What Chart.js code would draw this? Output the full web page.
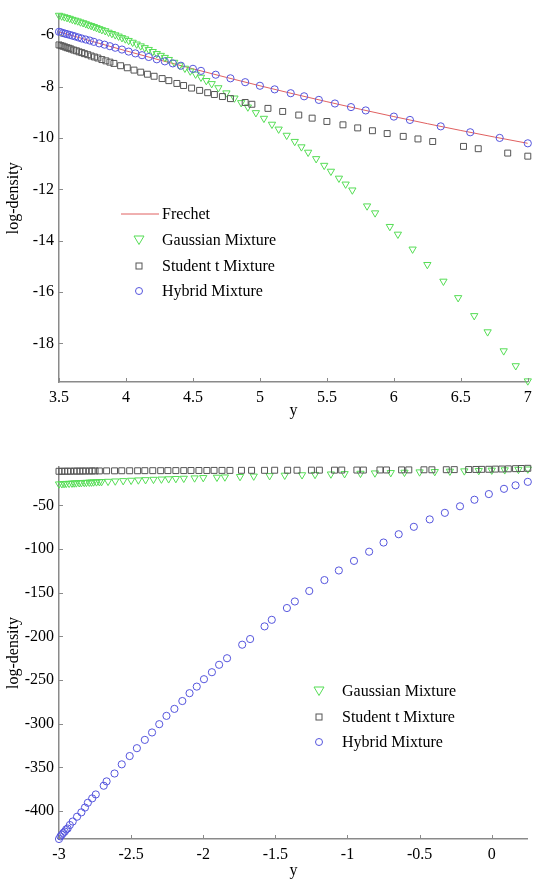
<!DOCTYPE html>
<html>
<head>
<meta charset="utf-8">
<script src="https://cdn.jsdelivr.net/npm/chart.js@4.4.0/dist/chart.umd.min.js"></script>
<style>
  body { margin: 0; background: #fff; width: 533px; height: 880px; overflow: hidden; position: relative; font-family: "Liberation Serif", "DejaVu Serif", serif; }
  .box { position: absolute; left: 0; }
  .legend { position: absolute; font-size: 16px; color: #000; line-height: 19px; }
  .legend .item { position: absolute; white-space: nowrap; }
  .legend svg { position: absolute; }
</style>
</head>
<body>
<div class="box" style="top:0px;"><canvas id="topChart" width="533" height="420"></canvas></div>
<div class="box" style="top:420px;"><canvas id="botChart" width="533" height="460"></canvas></div>

<div class="legend" id="topLegend" style="left:0; top:0;">
  <svg style="left:120px; top:207px;" width="40" height="14"><line x1="1" y1="7" x2="39" y2="7" stroke="#e06060" stroke-width="1"/></svg>
  <div class="item" style="left:162px; top:204px;">Frechet</div>
  <svg style="left:132px; top:233px;" width="14" height="14"><polygon points="2,3 12,3 7,11.5" fill="none" stroke="#55dd55" stroke-width="1"/></svg>
  <div class="item" style="left:162px; top:230px;">Gaussian Mixture</div>
  <svg style="left:132px; top:259px;" width="14" height="14"><rect x="4" y="4" width="6" height="6" fill="none" stroke="#555" stroke-width="1"/></svg>
  <div class="item" style="left:162px; top:256px;">Student t Mixture</div>
  <svg style="left:132px; top:284px;" width="14" height="14"><circle cx="7" cy="7" r="3.5" fill="none" stroke="#5555dd" stroke-width="1"/></svg>
  <div class="item" style="left:162px; top:281px;">Hybrid Mixture</div>
</div>

<div class="legend" id="botLegend" style="left:0; top:0;">
  <svg style="left:312px; top:684px;" width="14" height="14"><polygon points="2,3 12,3 7,11.5" fill="none" stroke="#55dd55" stroke-width="1"/></svg>
  <div class="item" style="left:342px; top:681px;">Gaussian Mixture</div>
  <svg style="left:312px; top:710px;" width="14" height="14"><rect x="4" y="4" width="6" height="6" fill="none" stroke="#555" stroke-width="1"/></svg>
  <div class="item" style="left:342px; top:707px;">Student t Mixture</div>
  <svg style="left:312px; top:735px;" width="14" height="14"><circle cx="7" cy="7" r="3.5" fill="none" stroke="#5555dd" stroke-width="1"/></svg>
  <div class="item" style="left:342px; top:732px;">Hybrid Mixture</div>
</div>

<script>
// ---- top panel (upper tail, y from 3.5 to 7) ----
var topFrechetX = [3.5, 3.75, 4, 4.25, 4.5, 4.75, 5, 5.25, 5.5, 5.75, 6, 6.25, 6.5, 6.75, 7];
var topFrechetY = [-5.87, -6.245, -6.61, -6.965, -7.31, -7.645, -7.97, -8.285, -8.59, -8.885, -9.17, -9.445, -9.71, -9.965, -10.21];

var topGaussX = [3.50,3.52,3.54,3.56,3.58,3.60,3.62,3.64,3.66,3.68,3.70,3.72,3.74,3.76,3.78,3.80,3.82,
  3.845,3.87,3.895,3.92,3.945,3.97,3.995,
  4.02,4.05,4.08,4.11,4.14,4.17,4.20,4.23,4.26,4.29,4.32,
  4.36,4.40,4.44,4.48,4.52,4.56,4.60,4.64,
  4.69,4.75,4.81,4.86,4.91,4.97,5.03,5.09,5.14,5.20,5.26,5.31,5.36,5.42,5.48,5.53,5.59,5.64,5.69,
  5.80,5.86,5.97,6.03,6.14,6.25,6.37,6.48,6.60,6.70,6.82,6.91,7.00];
var topGaussY = [-5.23,-5.26,-5.29,-5.32,-5.35,-5.39,-5.42,-5.45,-5.49,-5.52,-5.56,-5.60,-5.63,-5.67,-5.71,-5.75,-5.79,
  -5.83,-5.89,-5.94,-5.99,-6.04,-6.10,-6.15,
  -6.21,-6.28,-6.35,-6.42,-6.49,-6.56,-6.64,-6.72,-6.79,-6.87,-6.95,
  -7.06,-7.17,-7.29,-7.40,-7.52,-7.64,-7.77,-7.89,
  -8.05,-8.25,-8.45,-8.63,-8.80,-9.02,-9.24,-9.47,-9.66,-9.90,-10.14,-10.35,-10.56,-10.81,-11.07,-11.30,-11.57,-11.80,-12.03,
  -12.65,-12.92,-13.45,-13.75,-14.33,-14.93,-15.58,-16.22,-16.92,-17.55,-18.29,-18.87,-19.46];

var topStudentX = [3.50,3.515,3.53,3.545,3.56,3.575,3.59,3.61,3.63,3.65,3.67,3.69,3.715,3.74,3.765,3.79,
  3.82,3.85,3.88,3.91,3.96,4.01,4.06,4.11,4.16,4.21,4.27,4.32,4.38,4.43,4.49,4.55,4.61,4.66,4.72,4.78,
  4.89,4.94,5.06,5.17,5.29,5.39,5.50,5.62,5.73,5.84,5.95,6.07,6.18,6.29,6.52,6.63,6.85,7.00];
var topStudentY = [-6.38,-6.41,-6.43,-6.46,-6.49,-6.51,-6.54,-6.58,-6.61,-6.65,-6.68,-6.72,-6.76,-6.81,-6.85,-6.89,
  -6.95,-7.00,-7.05,-7.10,-7.19,-7.27,-7.36,-7.44,-7.52,-7.60,-7.69,-7.77,-7.88,-7.96,-8.06,-8.15,-8.24,-8.31,-8.39,-8.47,
  -8.62,-8.69,-8.85,-8.97,-9.11,-9.23,-9.36,-9.49,-9.61,-9.72,-9.83,-9.94,-10.04,-10.14,-10.33,-10.42,-10.59,-10.71];

var topHybridX = [3.50,3.515,3.53,3.545,3.56,3.58,3.60,3.62,3.645,3.67,3.70,3.73,3.76,3.80,3.84,3.88,3.92,3.97,4.02,4.07,
  4.12,4.17,4.23,4.29,4.35,4.41,4.50,4.56,4.67,4.78,4.89,5.00,5.11,5.23,5.33,5.44,5.56,5.68,5.79,6.00,6.12,6.35,6.57,6.79,7.00];
var topHybridY = [-5.87,-5.89,-5.92,-5.94,-5.96,-5.99,-6.02,-6.05,-6.09,-6.13,-6.17,-6.21,-6.26,-6.32,-6.37,-6.43,-6.49,-6.56,-6.64,-6.71,
  -6.78,-6.85,-6.94,-7.02,-7.10,-7.19,-7.31,-7.39,-7.54,-7.68,-7.83,-7.97,-8.11,-8.26,-8.38,-8.52,-8.66,-8.80,-8.93,-9.17,-9.30,-9.55,-9.78,-10.00,-10.21];

// ---- bottom panel (lower tail, y from -3 to 0.25) ----
var botGaussX = [-3.00,-2.98,-2.965,-2.95,-2.93,-2.91,-2.895,-2.88,-2.86,-2.845,-2.825,-2.81,-2.79,-2.775,-2.76,-2.74,-2.72,-2.705,
  -2.66,-2.61,-2.555,-2.50,-2.45,-2.40,-2.345,-2.29,-2.24,-2.19,-2.135,
  -2.06,-2.00,-1.905,-1.85,-1.745,-1.65,-1.54,-1.435,-1.315,-1.225,-1.115,-1.02,-0.91,-0.81,-0.70,-0.605,-0.50,-0.395,-0.29,-0.19,-0.09,0.00,0.09,0.185,0.25];
var botGaussY = [-25.5,-25.3,-25.1,-24.9,-24.8,-24.6,-24.4,-24.3,-24.1,-24.0,-23.8,-23.7,-23.5,-23.4,-23.2,-23.1,-22.9,-22.8,
  -22.5,-22.1,-21.7,-21.3,-20.9,-20.6,-20.2,-19.9,-19.6,-19.3,-19.0,
  -18.6,-18.2,-17.8,-17.5,-17.0,-16.5,-16.0,-15.5,-15.0,-14.6,-14.1,-13.7,-13.3,-12.9,-12.5,-12.1,-11.7,-11.3,-10.9,-10.5,-10.1,-9.7,-9.3,-8.8,-8.4];

var botStudentX = [-3.00,-2.98,-2.96,-2.94,-2.92,-2.895,-2.875,-2.855,-2.835,-2.815,-2.79,-2.77,-2.75,
  -2.72,-2.67,-2.615,-2.565,-2.51,-2.455,-2.405,-2.35,-2.295,-2.245,-2.19,-2.135,-2.085,-2.03,-1.975,-1.925,-1.87,-1.815,
  -1.735,-1.665,-1.575,-1.505,-1.415,-1.35,-1.25,-1.195,-1.09,-1.04,-0.935,-0.89,-0.775,-0.73,-0.625,-0.575,-0.47,-0.415,-0.315,-0.26,
  -0.16,-0.11,-0.07,-0.02,0.025,0.07,0.115,0.165,0.205,0.25];
var botStudentY = [-10.9,-10.9,-10.8,-10.8,-10.8,-10.7,-10.7,-10.7,-10.6,-10.6,-10.6,-10.5,-10.5,
  -10.5,-10.4,-10.4,-10.3,-10.3,-10.3,-10.2,-10.2,-10.2,-10.1,-10.1,-10.1,-10.0,-10.0,-10.0,-9.9,-9.9,-9.9,
  -9.8,-9.8,-9.8,-9.7,-9.7,-9.7,-9.6,-9.6,-9.6,-9.5,-9.5,-9.5,-9.4,-9.4,-9.3,-9.3,-9.2,-9.2,-9.1,-9.0,
  -8.9,-8.8,-8.7,-8.6,-8.4,-8.3,-8.1,-7.9,-7.7,-7.5];

var botHybridX = [-3.00,-2.99,-2.98,-2.97,-2.96,-2.95,-2.94,-2.925,-2.905,-2.875,-2.845,-2.82,-2.80,-2.77,-2.745,-2.69,-2.67,-2.615,
  -2.565,-2.51,-2.46,-2.405,-2.355,-2.305,-2.255,-2.20,-2.145,-2.095,-2.045,-1.995,-1.94,-1.89,-1.835,-1.73,-1.675,-1.575,-1.525,
  -1.42,-1.365,-1.265,-1.16,-1.06,-0.955,-0.85,-0.75,-0.645,-0.54,-0.43,-0.325,-0.22,-0.12,-0.02,0.085,0.165,0.25];
var botHybridY = [-432,-429,-427,-425,-423.5,-421,-420,-416,-412,-406.5,-401.5,-396,-390.5,-385.5,-381,-371,-366,-357,
  -346.5,-337,-328,-318.5,-310,-300.5,-291,-283,-274,-265,-257.5,-249,-241,-232.5,-225,-209.5,-203,-188.5,-181,
  -167.5,-160,-148,-135.5,-124.5,-113.5,-103,-92.5,-83,-74.5,-66,-58.5,-51,-43.5,-37,-31,-27,-23];

function pts(xs, ys){
  var out = [];
  for(var i = 0; i < xs.length; i++){
    out.push({x: xs[i], y: ys[i]});
  }
  return out;
}

var GREEN = '#55dd55';
var BLACK = '#555555';
var BLUE = '#5555dd';
var RED = '#e06060';
var AXIS = '#8a8a8a';
var FONT = {family: '"Liberation Serif", "DejaVu Serif", serif', size: 16};

// plain number labels: "4" not "4.0", "-3" not "-3.0"
function plainLabel(value){
  return String(Math.round(value * 100) / 100);
}

// small tick marks pointing into the plot, like the original figure
var innerTicks = {
  id: 'innerTicks',
  afterDraw: function(chart){
    var ctx = chart.ctx;
    var a = chart.chartArea;
    var sx = chart.scales.x, sy = chart.scales.y;
    ctx.save();
    ctx.strokeStyle = AXIS;
    ctx.lineWidth = 1;
    sx.ticks.forEach(function(t){
      var px = Math.round(sx.getPixelForValue(t.value)) + 0.5;
      ctx.beginPath(); ctx.moveTo(px, a.bottom); ctx.lineTo(px, a.bottom - 4); ctx.stroke();
    });
    sy.ticks.forEach(function(t){
      var py = Math.round(sy.getPixelForValue(t.value)) + 0.5;
      ctx.beginPath(); ctx.moveTo(a.left, py); ctx.lineTo(a.left + 4, py); ctx.stroke();
    });
    ctx.restore();
  }
};

function markerSet(label, data, style, color, radius, rot){
  return {
    label: label,
    data: data,
    showLine: false,
    pointStyle: style,
    pointRotation: rot || 0,
    pointRadius: radius,
    pointBorderWidth: 1,
    pointBorderColor: color,
    pointBackgroundColor: 'rgba(0,0,0,0)',
    borderColor: color,
    clip: false
  };
}

function makeOptions(o){
  return {
    responsive: false,
    animation: false,
    layout: {padding: {top: o.padTop, right: 5, left: 0, bottom: 0}},
    plugins: {legend: {display: false}, tooltip: {enabled: false}},
    scales: {
      x: {
        type: 'linear',
        min: o.xmin, max: o.xmax,
        afterFit: function(s){ s.height = o.xHeight; s.paddingLeft = 0; s.paddingRight = 0; },
        border: {display: true, color: AXIS, width: 1.5},
        grid: {display: true, drawOnChartArea: false, drawTicks: false},
        ticks: {stepSize: 0.5, includeBounds: false, padding: 6, color: '#000', font: FONT, maxRotation: 0, autoSkip: false, callback: plainLabel},
        title: {display: true, text: 'y', color: '#000', font: FONT, padding: {top: 0, bottom: 0}}
      },
      y: {
        type: 'linear',
        min: o.ymin, max: o.ymax,
        afterFit: function(s){ s.width = 59; },
        border: {display: true, color: AXIS, width: 1.5},
        grid: {display: true, drawOnChartArea: false, drawTicks: false},
        ticks: {stepSize: o.ystep, includeBounds: false, padding: 5, color: '#000', font: FONT, autoSkip: false, callback: plainLabel},
        title: {display: true, text: 'log-density', color: '#000', font: FONT, padding: {top: 4, bottom: 0}}
      }
    }
  };
}

var topConfig = {
  type: 'scatter',
  data: {
    datasets: [
      markerSet('Hybrid Mixture', pts(topHybridX, topHybridY), 'circle', BLUE, 3.6),
      markerSet('Student t Mixture', pts(topStudentX, topStudentY), 'rect', BLACK, 4.2),
      markerSet('Gaussian Mixture', pts(topGaussX, topGaussY), 'triangle', GREEN, 4.2, 180),
      {
        label: 'Frechet',
        type: 'line',
        data: pts(topFrechetX, topFrechetY),
        borderColor: RED,
        borderWidth: 1,
        pointRadius: 0,
        cubicInterpolationMode: 'monotone',
        fill: false
      }
    ]
  },
  options: makeOptions({padTop: 11, xmin: 3.5, xmax: 7, ymin: -19.5, ymax: -5.2, ystep: 2, xHeight: 38}),
  plugins: [innerTicks]
};

var botConfig = {
  type: 'scatter',
  data: {
    datasets: [
      markerSet('Hybrid Mixture', pts(botHybridX, botHybridY), 'circle', BLUE, 3.6),
      markerSet('Student t Mixture', pts(botStudentX, botStudentY), 'rect', BLACK, 4.2),
      markerSet('Gaussian Mixture', pts(botGaussX, botGaussY), 'triangle', GREEN, 4.2, 180)
    ]
  },
  options: makeOptions({padTop: 47, xmin: -3, xmax: 0.25, ymin: -432, ymax: -6, ystep: 50, xHeight: 41}),
  plugins: [innerTicks]
};

var topChart = new Chart(document.getElementById('topChart').getContext('2d'), topConfig);
var botChart = new Chart(document.getElementById('botChart').getContext('2d'), botConfig);
</script>
</body>
</html>
